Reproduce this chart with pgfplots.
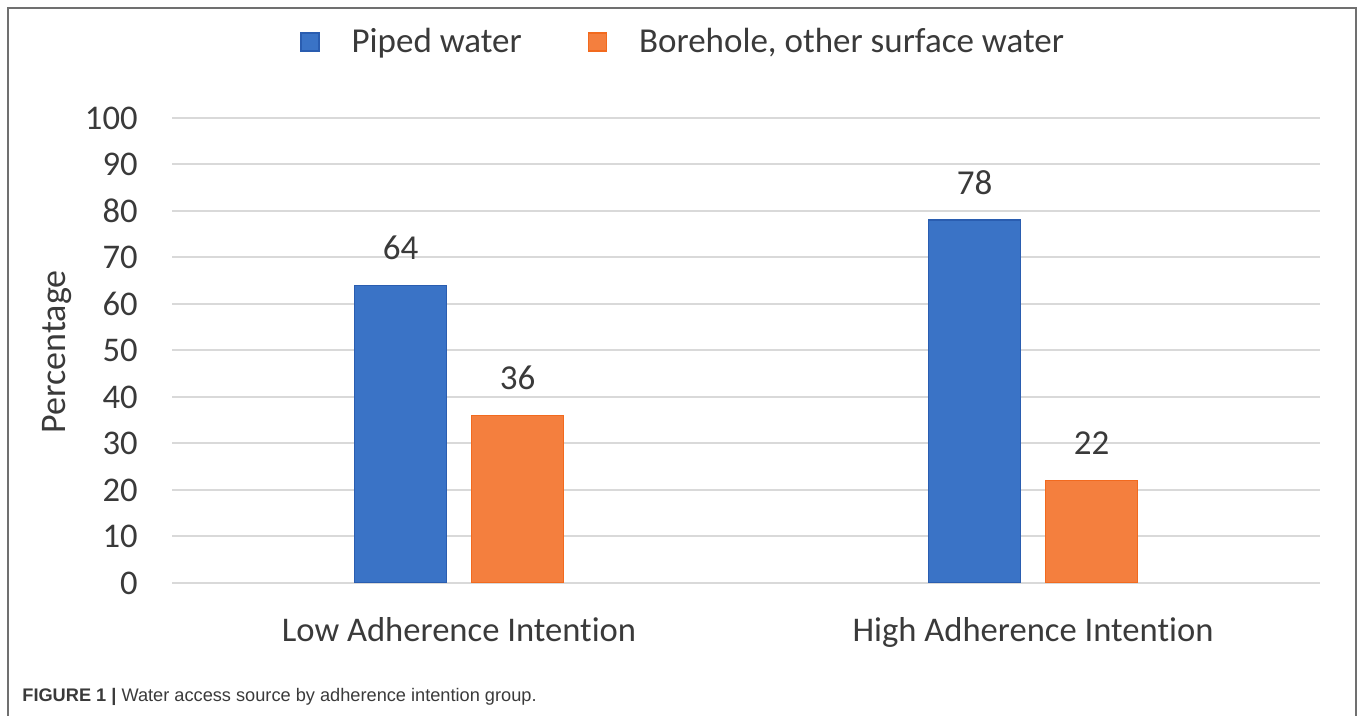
\documentclass[border=0pt]{standalone}
\usepackage{pgfplots}
\pgfplotsset{compat=1.18}
\usepackage{fontspec}
\setmainfont{Carlito}[Ligatures=NoCommon]
\newfontfamily\capfont{Liberation Sans}
\definecolor{barblue}{HTML}{3A73C6}
\definecolor{barblueedge}{HTML}{2A5DB0}
\definecolor{barorange}{HTML}{F47F3E}
\definecolor{barorangeedge}{HTML}{F26A1E}
\definecolor{txt}{HTML}{3A3A3A}
\definecolor{gridc}{HTML}{D9D9D9}
\definecolor{framec}{HTML}{707070}
\begin{document}
\begin{tikzpicture}
\useasboundingbox (0,0) rectangle (679pt,358pt);
\draw[framec, line width=1pt] (4pt,0) -- (4pt,354pt) -- (678pt,354pt) -- (678pt,0);
\begin{axis}[
  at={(86pt,66.5pt)}, anchor=south west,
  scale only axis, width=574pt, height=232.5pt,
  xmin=-0.5, xmax=1.5, ymin=0, ymax=100,
  ybar, bar width=46pt,
  xtick={0,1}, xticklabels={Low Adherence Intention, High Adherence Intention},
  ytick={0,10,...,100},
  axis line style={draw=none},
  major tick length=0pt,
  ymajorgrids, grid style={gridc, line width=1pt},
  /pgf/number format/assume math mode=true,
  tick label style={font=\fontsize{17.3}{20}\selectfont, text=txt},
  yticklabel style={anchor=east, inner sep=0pt, xshift=-17pt},
  xticklabel style={anchor=base, inner sep=0pt, yshift=-29.5pt, font=\fontsize{17.3}{20}\selectfont},
  ylabel={Percentage},
  ylabel style={at={(axis description cs:0,0.497)}, anchor=center, yshift=57.5pt, font=\fontsize{18}{20}\selectfont, text=txt, inner sep=0pt},
  legend columns=2,
  legend style={draw=none, fill=none, at={(0.1115,1.1634)}, anchor=west, inner sep=0pt,
    font=\fontsize{17.5}{20}\selectfont, text=txt,
    nodes={inner sep=0pt},
    /tikz/every odd column/.append style={column sep=16pt},
    /tikz/every even column/.append style={column sep=33pt}},
  nodes near coords,
  every node near coord/.append style={anchor=center, yshift=19pt, font=\fontsize{17.5}{20}\selectfont, text=txt},
]
\addplot[bar shift=-29.25pt, fill=barblue, draw=barblueedge, line width=0.8pt,
  legend image code/.code={\fill[barblue, draw=barblueedge, line width=0.6pt] (0pt,-4.5pt) rectangle (9pt,4.5pt);}]
  coordinates {(0,64) (1,78)};
\addlegendentry{Piped water}
\addplot[bar shift=29.25pt, fill=barorange, draw=barorangeedge, line width=0.8pt,
  legend image code/.code={\fill[barorange, draw=barorangeedge, line width=0.6pt] (0pt,-4.5pt) rectangle (9pt,4.5pt);}]
  coordinates {(0,36) (1,22)};
\addlegendentry{Borehole, other surface water}
\end{axis}
\node[anchor=west, inner sep=0pt, text=txt, font=\capfont\fontsize{9.1}{11}\selectfont] at (11pt,9.5pt) {\textbf{FIGURE 1 |} Water access source by adherence intention group.};
\end{tikzpicture}
\end{document}
